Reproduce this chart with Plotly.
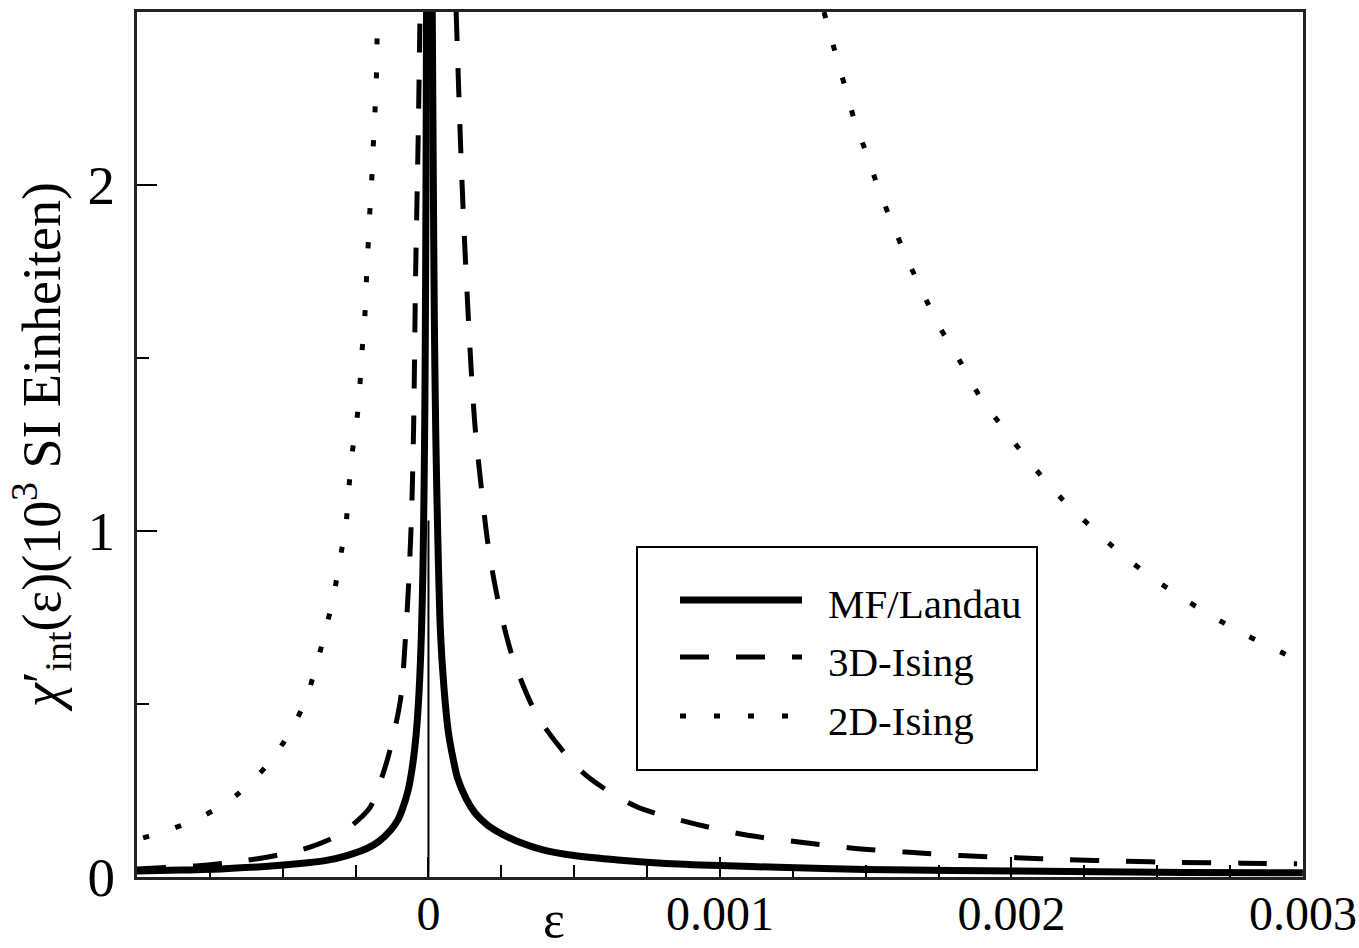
import plotly.graph_objects as go

# Reduced temperature epsilon and intrinsic susceptibility (units of 10^3 SI)
# Mean-field / Landau, branches below and above Tc
mf_eps_below = [-1.0e-3, -8.5e-4, -7.0e-4, -5.5e-4, -4.5e-4, -3.5e-4, -2.8e-4, -2.1e-4,
                -1.7e-4, -1.3e-4, -1.05e-4, -9.0e-5, -7.0e-5, -5.5e-5, -4.2e-5, -3.2e-5,
                -2.4e-5, -1.9e-5, -1.5e-5, -1.2e-5, -9.5e-6, -7.5e-6, -6.8e-6]
mf_chi_below = [0.017, 0.020, 0.024, 0.031, 0.038, 0.048, 0.062, 0.083,
                0.103, 0.135, 0.165, 0.195, 0.25, 0.32, 0.415, 0.54,
                0.71, 0.89, 1.13, 1.40, 1.78, 2.25, 2.50]
mf_eps_above = [1.3e-5, 1.6e-5, 2.0e-5, 2.5e-5, 3.2e-5, 4.1e-5, 5.2e-5, 6.8e-5, 8.5e-5,
                1.0e-4, 1.3e-4, 1.6e-4, 2.0e-4, 2.5e-4, 3.0e-4, 4.0e-4, 5.0e-4, 6.5e-4,
                8.0e-4, 1.0e-3, 1.2e-3, 1.5e-3, 1.8e-3, 2.2e-3, 2.6e-3, 3.0e-3]
mf_chi_above = [2.50, 2.10, 1.62, 1.28, 0.98, 0.71, 0.56, 0.42, 0.34,
                0.285, 0.225, 0.185, 0.152, 0.125, 0.105, 0.077, 0.062, 0.049,
                0.040, 0.033, 0.028, 0.022, 0.019, 0.016, 0.013, 0.012]

# 3D Ising
i3_eps_below = [-1.0e-3, -8.0e-4, -7.0e-4, -5.92e-4, -5.0e-4, -4.04e-4, -3.0e-4, -2.29e-4,
                -1.99e-4, -1.4e-4, -9.6e-5, -7.9e-5, -6.85e-5, -5.8e-5, -5.1e-5, -4.4e-5,
                -3.5e-5, -2.9e-5]
i3_chi_below = [0.023, 0.032, 0.040, 0.052, 0.066, 0.087, 0.125, 0.174,
                0.203, 0.342, 0.513, 0.69, 0.84, 1.05, 1.30, 1.75,
                2.15, 2.50]
i3_eps_above = [9.5e-5, 1.13e-4, 1.27e-4, 1.47e-4, 1.61e-4, 1.82e-4, 2.05e-4, 2.4e-4,
                2.91e-4, 3.77e-4, 5.31e-4, 7.09e-4, 8.97e-4, 1.086e-3, 1.271e-3,
                1.449e-3, 1.637e-3, 1.825e-3, 2.01e-3, 2.19e-3, 2.38e-3, 2.57e-3,
                2.79e-3, 2.98e-3]
i3_chi_above = [2.50, 2.05, 1.78, 1.46, 1.29, 1.12, 0.957, 0.794,
                0.629, 0.461, 0.301, 0.205, 0.157, 0.122, 0.101,
                0.084, 0.072, 0.062, 0.056, 0.050, 0.046, 0.042,
                0.040, 0.038]

# 2D Ising
i2_eps_below = [-9.79e-4, -8.8e-4, -7.71e-4, -6.61e-4, -5.58e-4, -4.76e-4, -4.21e-4,
                -3.84e-4, -3.53e-4, -3.25e-4, -3.05e-4, -2.84e-4, -2.74e-4, -2.64e-4,
                -2.47e-4, -2.36e-4, -2.29e-4, -2.19e-4, -2.14e-4, -2.08e-4, -2.02e-4,
                -1.95e-4, -1.9e-4, -1.84e-4, -1.79e-4, -1.75e-4]
i2_chi_below = [0.113, 0.139, 0.177, 0.235, 0.319, 0.417, 0.513,
                0.614, 0.713, 0.814, 0.913, 1.012, 1.113, 1.212,
                1.31, 1.412, 1.51, 1.609, 1.707, 1.806, 1.91,
                2.009, 2.104, 2.204, 2.304, 2.50]
i2_eps_above = [1.357e-3, 1.394e-3, 1.428e-3, 1.462e-3, 1.503e-3, 1.545e-3, 1.592e-3,
                1.640e-3, 1.695e-3, 1.753e-3, 1.822e-3, 1.890e-3, 1.976e-3, 2.065e-3,
                2.164e-3, 2.271e-3, 2.377e-3, 2.490e-3, 2.599e-3, 2.712e-3, 2.801e-3,
                2.911e-3, 2.98e-3]
i2_chi_above = [2.50, 2.388, 2.287, 2.186, 2.090, 1.988, 1.887,
                1.791, 1.690, 1.591, 1.493, 1.391, 1.293, 1.197,
                1.101, 1.014, 0.933, 0.861, 0.800, 0.742, 0.701,
                0.655, 0.630]

# Marker line at epsilon = 0
tc_eps = [0.0, 0.0]
tc_chi = [0.0, 1.03]

x_tick_vals = [0.0, 0.001, 0.002, 0.003]
x_tick_text = ["0", "0.001", "0.002", "0.003"]
y_tick_vals = [0, 1, 2]
y_tick_text = ["0", "1", "2"]

legend_names = ["MF/Landau", "3D-Ising", "2D-Ising"]

SERIF = "Liberation Serif, Times New Roman, serif"
DASH_3D = "29px,27px"
DOT_2D = "6px,28px"


def joined(a_x, a_y, b_x, b_y):
    return a_x + [None] + b_x, a_y + [None] + b_y


def curve(x, y, name, line, legend=True):
    return go.Scatter(x=x, y=y, mode="lines", name=name, line=line,
                      connectgaps=False, showlegend=legend)


fig = go.Figure()

x, y = joined(i2_eps_below, i2_chi_below, i2_eps_above, i2_chi_above)
fig.add_trace(curve(x, y, legend_names[2],
                    dict(color="black", width=5, dash=DOT_2D,
                         shape="spline", smoothing=0.8)))

x, y = joined(i3_eps_below, i3_chi_below, i3_eps_above, i3_chi_above)
fig.add_trace(curve(x, y, legend_names[1],
                    dict(color="black", width=5, dash=DASH_3D,
                         shape="spline", smoothing=0.8)))

fig.add_trace(curve(tc_eps, tc_chi, "Tc", dict(color="black", width=2), legend=False))

x, y = joined(mf_eps_below, mf_chi_below, mf_eps_above, mf_chi_above)
fig.add_trace(curve(x, y, legend_names[0],
                    dict(color="black", width=7, shape="spline", smoothing=0.8)))

# Plot-area geometry in pixels (used for the boxed legend)
W, H = 1359, 948
ML, MR, MT, MB = 137, 56, 12, 71
PW, PH = W - ML - MR, H - MT - MB


def px_x(px):
    return (px - ML) / PW


def px_y(py):
    return (H - MB - py) / PH


shapes = [
    dict(type="rect", xref="paper", yref="paper",
         x0=px_x(637), x1=px_x(1037), y0=px_y(770), y1=px_y(547),
         line=dict(color="black", width=2), fillcolor="white", layer="above"),
]
sample_styles = [
    dict(color="black", width=7),
    dict(color="black", width=5, dash=DASH_3D),
    dict(color="black", width=5, dash=DOT_2D),
]
sample_rows = [600, 657, 716]
text_rows = [604, 662, 721]
annotations = []
for name, style, ry, ty in zip(legend_names, sample_styles, sample_rows, text_rows):
    shapes.append(dict(type="line", xref="paper", yref="paper",
                       x0=px_x(680), x1=px_x(802), y0=px_y(ry), y1=px_y(ry),
                       line=style, layer="above"))
    annotations.append(dict(xref="paper", yref="paper", x=px_x(826), y=px_y(ty),
                            text=name, showarrow=False, xanchor="left",
                            yanchor="middle",
                            font=dict(family=SERIF, size=41, color="black")))

annotations.append(dict(xref="x", yref="paper", x=0.00043, y=px_y(919),
                        text="ε", showarrow=False, xanchor="center",
                        yanchor="middle",
                        font=dict(family=SERIF, size=52, color="black")))

axis_common = dict(
    showline=True, mirror=True, linecolor="#222222", linewidth=3,
    showgrid=False, zeroline=False, ticks="inside", tickwidth=2,
    tickcolor="black", ticklen=20, automargin=False,
    ticklabeloverflow="allow",
)

fig.update_layout(
    width=W, height=H,
    margin=dict(l=ML, r=MR, t=MT, b=MB, pad=0),
    paper_bgcolor="white", plot_bgcolor="white",
    showlegend=False,
    shapes=shapes,
    annotations=annotations,
    xaxis=dict(
        range=[-0.001, 0.0030004],
        tickmode="array", tickvals=x_tick_vals, ticktext=x_tick_text,
        minor=dict(ticks="inside", ticklen=12, tickwidth=2, tickcolor="black",
                   dtick=0.00025, tick0=0),
        ticklabelstandoff=-8,
        tickfont=dict(family=SERIF, size=48, color="black"),
        **axis_common,
    ),
    yaxis=dict(
        range=[0, 2.5],
        tickmode="array", tickvals=y_tick_vals, ticktext=y_tick_text,
        minor=dict(ticks="inside", ticklen=12, tickwidth=2, tickcolor="black",
                   dtick=0.5, tick0=0),
        ticklabelstandoff=8,
        tickfont=dict(family=SERIF, size=55, color="black"),
        title=dict(
            text="<i>χ</i>′<sub>int</sub>(ε)(10<sup>3</sup> SI Einheiten)",
            font=dict(family=SERIF, size=54, color="black"),
            standoff=10,
        ),
        **axis_common,
    ),
)

fig.write_html("out.html")
